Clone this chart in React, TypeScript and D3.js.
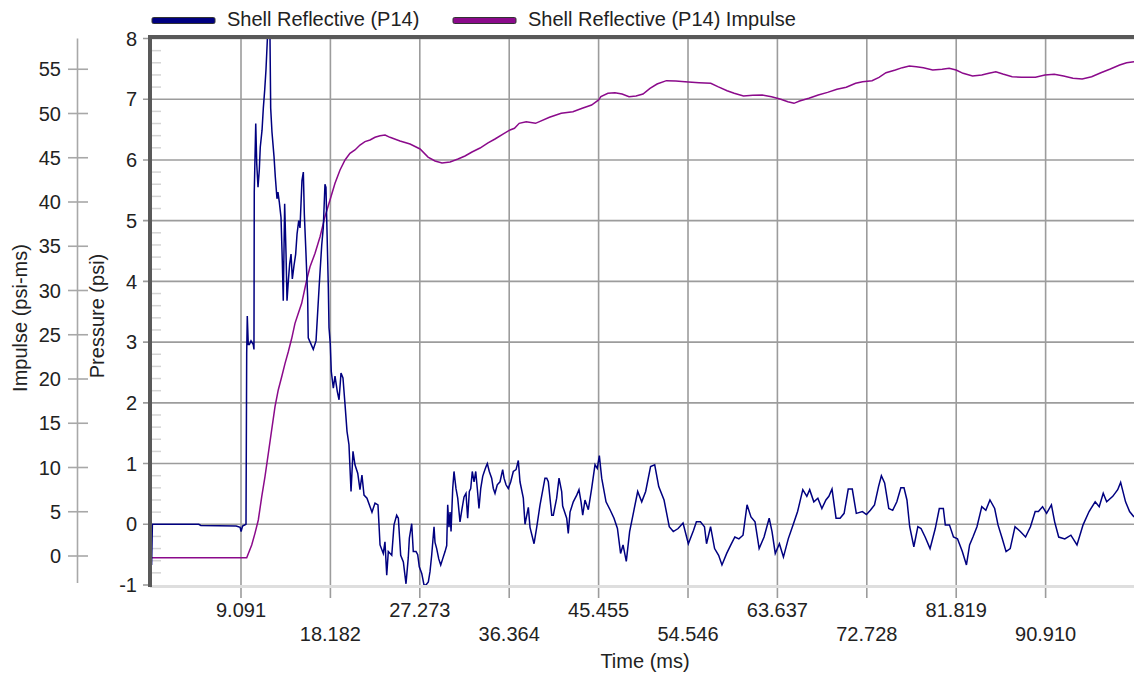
import React, { useEffect, useRef } from "react";
import * as d3 from "d3";

const seriesNames = ["Shell Reflective (P14)", "Shell Reflective (P14) Impulse"];
const seriesColors = ["#000080", "#8b0a8b"];

const timeTicks = [9.091, 18.182, 27.273, 36.364, 45.455, 54.546, 63.637, 72.728, 81.819, 90.91];
const timeTickLabels = ["9.091", "18.182", "27.273", "36.364", "45.455", "54.546", "63.637", "72.728", "81.819", "90.910"];
const pressureTicks = [-1, 0, 1, 2, 3, 4, 5, 6, 7, 8];
const impulseTicks = [0, 5, 10, 15, 20, 25, 30, 35, 40, 45, 50, 55];

// pressure trace (ms, psi)
const pressureTime = [
  0, 0.08, 4.8, 5, 8.6, 9, 9.1, 9.25, 9.6, 9.67, 9.73, 9.83, 9.94, 10.11, 10.34, 10.41,
  10.44, 10.59, 10.69, 10.82, 10.95, 11.05, 11.23, 11.36, 11.5, 11.63, 11.77, 11.87, 11.99, 12.04,
  12.11, 12.24, 12.45, 12.58, 12.75, 12.85, 12.99, 13.16, 13.29, 13.39, 13.53, 13.67, 13.77, 13.9,
  14.04, 14.18, 14.31, 14.48, 14.65, 14.79, 14.96, 15.09, 15.29, 15.43, 15.53, 15.7, 15.87, 15.93,
  16.44, 16.72, 17.05, 17.3, 17.46, 17.63, 17.73, 17.87, 17.97, 18.04, 18.17, 18.27, 18.48, 18.65,
  18.88, 19.06, 19.26, 19.46, 19.67, 19.87, 20.07, 20.28, 20.48, 20.68, 20.96, 21.19, 21.39, 21.6,
  21.9, 22.41, 22.72, 23.02, 23.23, 23.56, 23.73, 23.91, 24.07, 24.42, 24.65, 24.92, 25.09, 25.33,
  25.6, 25.87, 26.1, 26.21, 26.45, 26.61, 26.89, 27.06, 27.22, 27.47, 27.7, 27.9, 28.14, 28.31,
  28.48, 28.72, 28.82, 28.99, 29.2, 29.4, 29.6, 29.84, 30.01, 30.11, 30.24, 30.35, 30.45, 30.62,
  30.75, 30.95, 31.13, 31.36, 31.54, 31.77, 31.97, 32.14, 32.31, 32.45, 32.61, 32.79, 32.96, 33.12,
  33.29, 33.47, 33.67, 33.83, 34.01, 34.14, 34.34, 34.58, 34.75, 34.92, 35.15, 35.43, 35.7, 35.84,
  36.04, 36.27, 36.52, 36.78, 37.06, 37.29, 37.46, 37.8, 37.97, 38.31, 38.48, 38.89, 39.16, 39.5,
  40.0, 40.18, 40.34, 40.69, 40.85, 41.19, 41.43, 41.7, 41.8, 42.21, 42.37, 42.55, 42.88, 43.23,
  43.46, 43.67, 43.84, 44.07, 44.41, 44.75, 45.09, 45.32, 45.53, 45.77, 46.21, 46.62, 47.02, 47.37,
  47.69, 47.94, 48.27, 48.61, 49.02, 49.43, 49.84, 50.24, 50.74, 51.16, 51.57, 52.11, 52.64, 53.05,
  53.54, 54.04, 54.58, 55.11, 55.4, 55.81, 56.22, 56.43, 56.84, 57.25, 57.66, 58.0, 58.48, 58.9,
  59.31, 59.72, 60.14, 60.55, 60.95, 61.36, 61.78, 62.28, 62.8, 63.09, 63.42, 63.84, 64.25, 64.74,
  65.27, 65.69, 66.22, 66.63, 66.92, 67.34, 67.75, 68.16, 68.57, 68.87, 69.19, 69.6, 70.01, 70.42,
  70.84, 71.25, 71.66, 72.28, 72.69, 73.09, 73.51, 73.92, 74.21, 74.54, 74.96, 75.36, 75.78, 76.19,
  76.51, 76.81, 77.09, 77.51, 77.92, 78.24, 78.66, 79.16, 79.69, 80.1, 80.51, 80.71, 81.13, 81.54,
  81.95, 82.44, 82.86, 83.18, 83.52, 83.93, 84.42, 84.83, 85.25, 85.73, 86.07, 86.49, 86.89, 87.31,
  87.8, 88.34, 88.87, 89.37, 89.85, 90.18, 90.6, 91.01, 91.5, 91.83, 92.24, 92.86, 93.48, 94.1,
  94.72, 95.33, 95.95, 96.36, 96.77, 97.12, 97.74, 98.24, 98.54, 99.04, 99.45, 99.9
];
const pressureValues = [
  -0.67, 0, 0, -0.02, -0.03, -0.05, -0.12, -0.03, 0, 2.82, 3.43, 2.96, 2.96, 3.02, 2.96, 2.88,
  5.47, 6.6, 5.94, 5.55, 5.83, 6.21, 6.49, 6.85, 7.15, 7.48, 7.98, 8.6, 8.5, 8.0,
  6.85, 6.46, 6.05, 5.72, 5.36, 5.47, 5.3, 5.05, 4.34, 3.68, 5.28, 4.45, 3.68, 4.0,
  4.29, 4.45, 4.04, 4.26, 4.45, 4.78, 5.0, 4.88, 5.66, 5.8, 5.11, 4.45, 3.73, 3.07,
  2.88, 3.02, 3.95, 4.6, 4.89, 5.6, 5.55, 4.6, 3.9, 3.24, 2.97, 2.52, 2.24, 2.44,
  2.19, 2.05, 2.49, 2.41, 1.97, 1.53, 1.31, 0.54, 1.2, 0.98, 0.84, 0.57, 0.81, 0.48,
  0.43, 0.2, 0.35, 0.32, -0.34, -0.48, -0.29, -0.84, -0.45, -0.51, -0.01, 0.15, 0.1, -0.51,
  -0.62, -0.98, -0.55, -0.23, 0.01, -0.45, -0.45, -0.5, -0.7, -0.81, -1.0, -1.0, -0.95, -0.78,
  -0.51, -0.04, -0.3, -0.4, -0.57, -0.67, -0.57, -0.45, -0.35, 0.32, -0.05, 0.2, -0.12, 0.59,
  0.87, 0.59, 0.43, 0.04, 0.23, 0.45, 0.51, 0.1, 0.54, 0.59, 0.87, 0.7, 0.87, 0.59,
  0.26, 0.59, 0.79, 0.87, 0.95, 1.0, 0.87, 0.76, 0.59, 0.51, 0.65, 0.7, 0.9, 0.76,
  0.65, 0.59, 0.7, 0.87, 0.9, 1.05, 0.7, 0.43, 0.0, 0.28, -0.05, -0.32, -0.05, 0.32,
  0.76, 0.76, 0.7, 0.15, 0.15, 0.43, 0.76, 0.54, 0.3, 0.1, -0.15, 0.2, 0.37, 0.48,
  0.57, 0.37, 0.15, 0.4, 0.24, 0.59, 0.98, 0.92, 1.13, 0.76, 0.37, 0.24, 0.1, -0.07,
  -0.48, -0.34, -0.61, -0.12, 0.21, 0.54, 0.37, 0.54, 0.95, 0.98, 0.62, 0.4, -0.04, -0.12,
  -0.07, 0.02, -0.32, -0.1, 0.04, 0.04, -0.04, -0.32, -0.04, -0.4, -0.51, -0.67, -0.48, -0.34,
  -0.21, -0.24, -0.18, 0.32, 0.12, 0.04, -0.4, -0.21, 0.1, -0.12, -0.48, -0.32, -0.54, -0.24,
  0.01, 0.21, 0.57, 0.46, 0.57, 0.37, 0.43, 0.26, 0.4, 0.46, 0.58, 0.1, 0.1, 0.18,
  0.58, 0.58, 0.18, 0.21, 0.16, 0.23, 0.32, 0.62, 0.8, 0.68, 0.26, 0.23, 0.37, 0.6,
  0.6, 0.4, -0.04, -0.37, -0.04, -0.07, -0.21, -0.4, -0.07, 0.26, 0.26, -0.01, -0.01, -0.21,
  -0.24, -0.45, -0.67, -0.34, -0.21, -0.04, 0.29, 0.23, 0.4, 0.26, -0.01, -0.23, -0.45, -0.4,
  -0.04, -0.12, -0.21, -0.04, 0.21, 0.21, 0.29, 0.18, 0.32, 0.04, -0.21, -0.24, -0.18, -0.34,
  -0.01, 0.21, 0.37, 0.29, 0.51, 0.37, 0.46, 0.57, 0.69, 0.37, 0.21, 0.12
];

// impulse trace (ms, psi-ms)
const impulseTime = [
  0, 9.67, 10.18, 10.51, 10.85, 11.2, 11.53, 11.87, 12.21, 12.55, 12.88, 13.23, 13.57, 13.9,
  14.25, 14.58, 14.92, 15.26, 15.77, 16.11, 16.62, 17.13, 17.63, 18.14, 18.65, 19.16, 19.67, 20.17,
  20.68, 21.19, 21.7, 22.21, 22.72, 23.23, 23.74, 24.24, 25.26, 26.28, 27.3, 28.11, 28.82, 29.53,
  30.35, 31.16, 31.87, 32.58, 33.4, 34.21, 34.92, 35.73, 36.45, 36.9, 37.38, 38.09, 39.04, 40.46,
  41.65, 42.84, 43.79, 44.74, 45.46, 45.69, 46.4, 47.12, 47.84, 48.55, 49.26, 49.97, 50.68, 51.4,
  52.35, 53.3, 54.24, 55.67, 56.86, 57.58, 58.52, 59.24, 60.19, 61.14, 62.08, 63.04, 63.98, 64.7,
  65.32, 65.89, 66.84, 67.79, 68.74, 69.69, 70.64, 71.59, 72.3, 73.26, 73.97, 74.68, 75.63, 76.34,
  77.05, 77.77, 78.48, 79.43, 80.39, 81.1, 81.81, 82.52, 83.48, 84.42, 85.14, 85.85, 86.56, 87.51,
  88.46, 89.88, 90.84, 91.79, 92.74, 93.69, 94.63, 95.59, 96.53, 97.49, 98.44, 99.15, 99.9
];
const impulseValues = [
  -0.2, -0.2, 1.24, 2.56, 4.07, 6.7, 8.96, 11.6, 14.24, 16.87, 18.76, 20.26, 21.77, 23.08,
  24.6, 26.29, 27.42, 28.55, 31.19, 32.69, 34.2, 36.08, 38.34, 40.23, 42.11, 43.62, 44.75, 45.5,
  45.88, 46.44, 46.82, 47.01, 47.31, 47.49, 47.57, 47.31, 46.89, 46.55, 45.99, 45.08, 44.63, 44.41,
  44.52, 44.86, 45.2, 45.65, 46.1, 46.67, 47.12, 47.68, 48.14, 48.33, 48.89, 49.07, 48.89, 49.57,
  50.02, 50.2, 50.59, 50.96, 51.53, 51.9, 52.28, 52.35, 52.2, 51.9, 51.98, 52.2, 52.84, 53.33,
  53.71, 53.67, 53.59, 53.48, 53.41, 53.03, 52.57, 52.28, 51.98, 52.06, 52.09, 51.9, 51.6, 51.33,
  51.15, 51.41, 51.72, 52.09, 52.39, 52.73, 52.96, 53.41, 53.59, 53.71, 54.09, 54.61, 54.92, 55.18,
  55.37, 55.29, 55.18, 54.92, 55.0, 55.11, 54.92, 54.54, 54.24, 54.35, 54.54, 54.72, 54.46, 54.16,
  54.09, 54.09, 54.35, 54.43, 54.24, 53.99, 53.9, 54.16, 54.61, 55.03, 55.48, 55.74, 55.85
];

const FONT = "'Liberation Sans', Arial, sans-serif";

export default function App() {
  const ref = useRef<SVGSVGElement>(null);

  useEffect(() => {
    document.body.style.margin = "0";
    const svg = d3.select(ref.current);
    svg.selectAll("*").remove();

    const left = 151.6, right = 1135, top = 38.5, bottom = 585;
    const x = d3.scaleLinear().domain([0, 100]).range([left, right]);
    const yP = d3.scaleLinear().domain([-1, 8]).range([bottom, top]);
    const yI = d3.scaleLinear().domain([0, 55]).range([556, 69.25]);

    svg.append("defs").append("clipPath").attr("id", "plotclip")
      .append("rect").attr("x", 152).attr("y", 39).attr("width", 990).attr("height", 546);

    // minor ticks inside the left edge
    const minor = d3.range(-1, 8, 0.2).filter(v => Math.abs(v - Math.round(v)) > 0.01);
    svg.append("g").selectAll("line").data(minor).enter().append("line")
      .attr("x1", 152).attr("x2", 161)
      .attr("y1", d => yP(d)).attr("y2", d => yP(d))
      .attr("stroke", "#d4d4d4").attr("stroke-width", 1.5);

    // grid
    const grid = svg.append("g").attr("stroke", "#9c9c9c").attr("stroke-width", 1.6);
    grid.selectAll(".v").data(timeTicks).enter().append("line")
      .attr("x1", d => x(d)).attr("x2", d => x(d)).attr("y1", top).attr("y2", bottom + 13);
    grid.selectAll(".h").data(pressureTicks.slice(1)).enter().append("line")
      .attr("x1", 143).attr("x2", 1134).attr("y1", d => yP(d)).attr("y2", d => yP(d));

    // frame
    svg.append("line").attr("x1", 150).attr("x2", 1134).attr("y1", bottom + 1.5).attr("y2", bottom + 1.5)
      .attr("stroke", "#dedede").attr("stroke-width", 3);
    svg.append("line").attr("x1", 143).attr("x2", 150).attr("y1", bottom).attr("y2", bottom)
      .attr("stroke", "#9c9c9c").attr("stroke-width", 1.6);
    svg.append("line").attr("x1", 148).attr("x2", 1134).attr("y1", 37).attr("y2", 37)
      .attr("stroke", "#595959").attr("stroke-width", 4);
    svg.append("line").attr("x1", 150).attr("x2", 150).attr("y1", 35).attr("y2", 587)
      .attr("stroke", "#595959").attr("stroke-width", 4);

    // series
    const plot = svg.append("g").attr("clip-path", "url(#plotclip)");
    const lineP = d3.line<number>().x((d, i) => x(pressureTime[i])).y(d => yP(d));
    const lineI = d3.line<number>().x((d, i) => x(impulseTime[i])).y(d => yI(d));
    plot.append("path").attr("d", lineI(impulseValues))
      .attr("fill", "none").attr("stroke", seriesColors[1]).attr("stroke-width", 1.5);
    plot.append("path").attr("d", lineP(pressureValues))
      .attr("fill", "none").attr("stroke", seriesColors[0]).attr("stroke-width", 1.5);

    const text = svg.append("g").attr("font-family", FONT).attr("font-size", 20).attr("fill", "#222");

    // pressure axis labels
    text.selectAll(".pl").data(pressureTicks).enter().append("text")
      .attr("x", 137).attr("y", d => yP(d)).attr("dy", "0.36em")
      .attr("text-anchor", "end").text(d => String(d));

    // impulse axis
    svg.append("line").attr("x1", 77.5).attr("x2", 77.5).attr("y1", top).attr("y2", 583)
      .attr("stroke", "#a8a8a8").attr("stroke-width", 1.6);
    svg.append("g").selectAll("line").data(impulseTicks).enter().append("line")
      .attr("x1", 68).attr("x2", 88).attr("y1", d => yI(d)).attr("y2", d => yI(d))
      .attr("stroke", "#a8a8a8").attr("stroke-width", 1.6);
    text.selectAll(".il").data(impulseTicks).enter().append("text")
      .attr("x", 61).attr("y", d => yI(d)).attr("dy", "0.36em")
      .attr("text-anchor", "end").text(d => String(d));

    // time axis labels, staggered
    text.selectAll(".tl").data(timeTicks).enter().append("text")
      .attr("x", d => x(d)).attr("y", (d, i) => (i % 2 === 0 ? 610 : 634)).attr("dy", "0.36em")
      .attr("text-anchor", "middle").text((d, i) => timeTickLabels[i]);

    text.append("text").attr("x", 645).attr("y", 661).attr("dy", "0.36em")
      .attr("text-anchor", "middle").text("Time (ms)");
    text.append("text").attr("transform", "translate(20,318) rotate(-90)").attr("dy", "0.36em")
      .attr("text-anchor", "middle").text("Impulse (psi-ms)");
    text.append("text").attr("transform", "translate(97,316) rotate(-90)").attr("dy", "0.36em")
      .attr("text-anchor", "middle").text("Pressure (psi)");

    // legend
    const legendX = [152, 453];
    seriesNames.forEach((name, i) => {
      svg.append("rect").attr("x", legendX[i]).attr("y", 17.5).attr("width", 63).attr("height", 6)
        .attr("rx", 1.5).attr("fill", seriesColors[i]).attr("stroke", "#333").attr("stroke-width", 1);
      text.append("text").attr("x", legendX[i] + 75).attr("y", 19).attr("dy", "0.36em").text(name);
    });
  }, []);

  return <svg ref={ref} width={1134} height={677} style={{ display: "block", background: "#fff" }} />;
}
